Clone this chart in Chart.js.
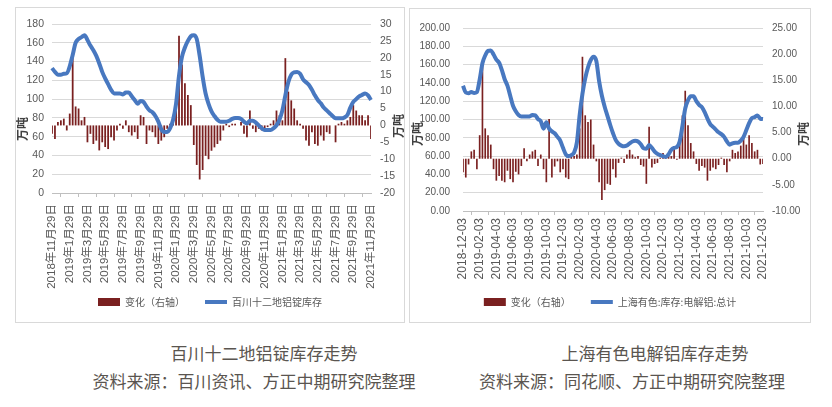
<!DOCTYPE html>
<html>
<head>
<meta charset="utf-8">
<title>铝库存走势</title>
<script src="https://cdn.jsdelivr.net/npm/chart.js@4"></script>
<style>
    body { margin: 0; width: 832px; height: 407px; background: #fff; position: relative; overflow: hidden; }
    .box { position: absolute; border: 1px solid #d9d9d9; background: #fff; }
    .box canvas { display: block; }
    .unit { position: absolute; font: bold 12px "Noto Sans CJK SC"; color: #404040; line-height: 1;
            transform: translate(-50%, -50%) rotate(-90deg); white-space: nowrap; }
    .cap { position: absolute; font: 17px "Noto Sans CJK SC"; color: #5a5550; line-height: 1;
           transform: translate(-50%, -50%); white-space: nowrap; }
</style>
</head>
<body>
    <div class="box" style="left:15px; top:7px; width:388px; height:314px;">
        <canvas id="baichuanChart" width="388" height="314"></canvas>
    </div>
    <div class="box" style="left:409px; top:8px; width:400px; height:313px;">
        <canvas id="smmChart" width="400" height="313"></canvas>
    </div>

    <div class="unit" style="left:22px; top:129px;">万吨</div>
    <div class="unit" style="left:398px; top:126px;">万吨</div>
    <div class="unit" style="left:417px; top:134px;">万吨</div>
    <div class="unit" style="left:803px; top:134px;">万吨</div>

    <div class="cap" style="left:264px; top:352px;">百川十二地铝锭库存走势</div>
    <div class="cap" style="left:254px; top:380px;">资料来源：百川资讯、方正中期研究院整理</div>
    <div class="cap" style="left:655px; top:352px;">上海有色电解铝库存走势</div>
    <div class="cap" style="left:632px; top:380px;">资料来源：同花顺、方正中期研究院整理</div>

<script>
    // 百川十二地铝锭库存 (万吨), roughly every 10 days, 2018-11-29 .. 2021-11-29
    const baichuanTicks = ['2018年11月29日', '2019年1月29日', '2019年3月29日', '2019年5月29日', '2019年7月29日',
        '2019年9月29日', '2019年11月29日', '2020年1月29日', '2020年3月29日', '2020年5月29日', '2020年7月29日',
        '2020年9月29日', '2020年11月29日', '2021年1月29日', '2021年3月29日', '2021年5月29日', '2021年7月29日',
        '2021年9月29日', '2021年11月29日'];
    const baichuanStock = [
        133, 129, 126, 126, 127, 127.5, 135, 147, 160, 164, 166, 168,
        163, 157, 152, 146, 138, 129, 122, 116, 110, 106, 106, 106,
        105, 107, 107, 103, 99, 95, 98, 97, 92, 88, 86, 82,
        76, 68, 65, 65, 69, 78, 95, 125, 145, 155, 162, 167,
        168, 164, 146, 124, 106, 95, 87, 82, 78, 76, 76, 76,
        77, 79, 80, 80, 79, 76, 74, 77, 77, 75, 72, 69,
        67, 67, 67, 69, 72, 78, 88, 104, 118, 126, 128.5, 129,
        127, 121, 118, 115, 110, 104, 99, 95.5, 91, 88, 85, 82,
        79.5, 79.5, 79.5, 80.5, 83, 91, 97, 100, 103, 104.5, 106, 104,
        99];
    const baichuanChange = [
        -2.5, -4, 1, 1.5, 2, -1.5, 3.5, 20, 5.6, 5, 1.5, 2.5,
        -5, -2.5, -5.5, -4.5, -7.4, -5, -6.4, -7, -3.5, -4.5, -1.5, 0.5,
        -1, 1.5, -2, -3, -2, -4, 3, 2.5, -5.5, -1.5, -2, -3.5,
        -5.5, -4.5, -3.5, -1, 0.5, 2.5, 6, 26.5, 18, 12.5, 9, 6,
        -5.8, -11.7, -16, -13.2, -9, -10, -7.5, -6.5, -5.5, -4.5, -1.5, 0.5,
        -0.5, 0.5, 0.5, 0, 1, -2.5, -3.5, 4.4, -1, -2, -1, -1.5,
        -1.5, -0.5, 0.5, 1.5, 4.4, 3, 1.5, 19.9, 10, 7.4, 5, 1.5,
        0.5, -1, -4.5, -6, -2, -5.5, -6, -3, -4.5, -2, -2.5, 0,
        -5, 0.5, 1, 0.5, 1.5, 2.5, 6, 4.4, 3, 3, 1.5, 3,
        -4];

    // 上海有色:库存:电解铝:总计 (万吨), 2018-12-03 .. 2021-12-03
    const smmTicks = ['2018-12-03', '2019-02-03', '2019-04-03', '2019-06-03', '2019-08-03', '2019-10-03',
        '2019-12-03', '2020-02-03', '2020-04-03', '2020-06-03', '2020-08-03', '2020-10-03', '2020-12-03',
        '2021-02-03', '2021-04-03', '2021-06-03', '2021-08-03', '2021-10-03', '2021-12-03'];
    const smmStock = [
        137, 129.5, 128.7, 130, 129, 130, 143.7, 161.5, 170, 175, 175.5, 171,
        165.5, 162, 154, 144, 137, 126, 115, 109, 105, 103.4, 103.4, 103.4,
        103.4, 105, 104.5, 100.5, 98, 90, 97, 90, 87, 85, 81, 77,
        69, 62, 60, 61, 64, 75, 105, 128, 145, 157, 165, 168.6,
        164, 142, 126, 114, 104, 94, 85, 77.5, 73.5, 71.5, 70.7, 71.5,
        74, 76, 76.7, 76, 73, 68.5, 68, 72, 69, 65, 62.5, 61,
        60, 59, 62, 67, 69, 70, 76, 93, 112, 121, 125.5, 125.5,
        120, 116, 113.5, 108, 101, 95, 92, 89, 86, 84, 81, 76,
        72.4, 74, 74.5, 74.5, 77, 81, 88.4, 96, 101.5, 102.6, 104.5, 101,
        100.5];
    const smmChange = [
        -2.6, -3.6, -1.1, 1.4, 1.7, -2, 4.5, 18.3, 5.8, 4.5, 2.7, -2,
        -4.2, -3.3, -4.2, -4.5, -2.3, -3.9, -4.5, -2.5, -3, -1.4, 2, -0.5,
        0.8, 1.4, 1.7, -1.4, 0.8, -2, -4.5, 7.6, -3.6, -1.5, -0.5, -2.6,
        -2, -3.6, -3.9, 0.8, 0.5, 0.8, 5.8, 19.5, 8.3, 7, 7.5, 2.7,
        -0.5, -4.5, -7.9, -6, -4.8, -5, -2, -3.6, -0.8, 0.2, -0.8, 0.8,
        1.7, 0.8, 0.3, 0.5, -1.2, -1.5, -4.8, 6.1, -1.7, -1, -0.8, 0.2,
        1.1, 0.2, 0.6, 0.5, 2, -0.2, 3, 8.3, 13, 6.4, 3, 1.4,
        -1, -2.3, -1.4, -1.7, -4.2, -2.3, -1.7, -2, -1.2, 0.2, -1.2, -2.6,
        -0.5, 1.7, 1.1, 1.4, 2.5, 4.5, 2.7, 4.5, 3, 1.4, 1.7, -1.1,
        -1];

    const FONT = '"Liberation Sans", "Noto Sans CJK SC", sans-serif';
    const GREY = '#595959';
    const EVERY = 6; // points per 2-month tick

    // x labels need more room than the legend leaves, so pull the legend's top edge up after layout
    const legendLift = {
        id: 'legendLift',
        afterLayout(chart, args, opts) {
            const l = chart.legend;
            if (l && opts.dy) { l.top -= opts.dy; l.height += opts.dy; }
        }
    };

    function makeChart(id, o) {
        const labels = o.stock.map((v, i) => i % EVERY === 0 ? o.ticks[i / EVERY] : '');
        return new Chart(document.getElementById(id), {
            plugins: [legendLift],
            data: {
                labels: labels,
                datasets: [{
                    type: 'bar',
                    label: '变化（右轴）',
                    data: o.change,
                    yAxisID: 'y2',
                    backgroundColor: '#7a2020',
                    borderWidth: 0,
                    barPercentage: 0.6,
                    categoryPercentage: 1,
                    pointStyle: 'rect',
                    order: 2
                }, {
                    type: 'line',
                    label: o.name,
                    data: o.stock,
                    yAxisID: 'y',
                    borderColor: '#4878c0',
                    backgroundColor: '#4878c0',
                    borderWidth: 4,
                    pointRadius: 0,
                    cubicInterpolationMode: 'monotone',
                    pointStyle: 'line',
                    order: 1
                }]
            },
            options: {
                responsive: false,
                animation: false,
                layout: { padding: { top: o.padTop, left: 0, right: 0, bottom: 0 } },
                plugins: {
                    tooltip: { enabled: false },
                    legendLift: { dy: o.legendDy },
                    legend: {
                        position: 'bottom',
                        maxHeight: o.legendHeight,
                        labels: {
                            usePointStyle: true,
                            pointStyleWidth: 22,
                            boxHeight: 8,
                            padding: 20,
                            color: GREY,
                            font: { family: '"Noto Sans CJK SC"', size: 10 },
                            sort: (a, b) => a.datasetIndex - b.datasetIndex
                        }
                    }
                },
                scales: {
                    x: {
                        offset: false,
                        grid: { drawOnChartArea: false, drawTicks: true, tickLength: 4, color: '#bfbfbf' },
                        border: { display: true, color: '#bfbfbf' },
                        ticks: {
                            autoSkip: false, maxRotation: 90, minRotation: 90,
                            padding: o.xPad, color: GREY,
                            font: { family: FONT, size: o.xFont }
                        },
                        afterBuildTicks: s => { s.ticks = s.ticks.filter(t => t.value % EVERY === 0); },
                        afterFit: s => { s.height = o.xHeight; }
                    },
                    y: {
                        position: 'left',
                        min: 0, max: o.yMax,
                        grid: { color: '#d9d9d9', drawTicks: false },
                        border: { display: false },
                        ticks: {
                            stepSize: 20, padding: o.yPad, color: GREY,
                            font: { family: FONT, size: o.yFont },
                            callback: v => v.toFixed(o.decimals)
                        },
                        afterFit: s => { s.width = o.yWidth; }
                    },
                    y2: {
                        position: 'right',
                        min: o.y2Min, max: o.y2Max,
                        grid: { display: false, drawTicks: false },
                        border: { display: false },
                        ticks: {
                            stepSize: 5, padding: 9, color: GREY,
                            font: { family: FONT, size: o.yFont },
                            callback: v => v.toFixed(o.decimals)
                        },
                        afterFit: s => { s.width = o.y2Width; }
                    }
                }
            }
        });
    }

    Chart.defaults.font.family = FONT;

    makeChart('baichuanChart', {
        name: '百川十二地铝锭库存', ticks: baichuanTicks, stock: baichuanStock, change: baichuanChange,
        yMax: 180, y2Min: -20, y2Max: 30, decimals: 0,
        padTop: 16, yWidth: 36, y2Width: 33, yPad: 8, yFont: 10.5,
        xHeight: 105, xPad: 7, xFont: 11.5, legendHeight: 24, legendDy: 21
    });

    makeChart('smmChart', {
        name: '上海有色:库存:电解铝:总计', ticks: smmTicks, stock: smmStock, change: smmChange,
        yMax: 200, y2Min: -10, y2Max: 25, decimals: 2,
        padTop: 15, yWidth: 53, y2Width: 47, yPad: 13, yFont: 10,
        xHeight: 80, xPad: 3, xFont: 12, legendHeight: 31, legendDy: 14
    });
</script>
</body>
</html>
